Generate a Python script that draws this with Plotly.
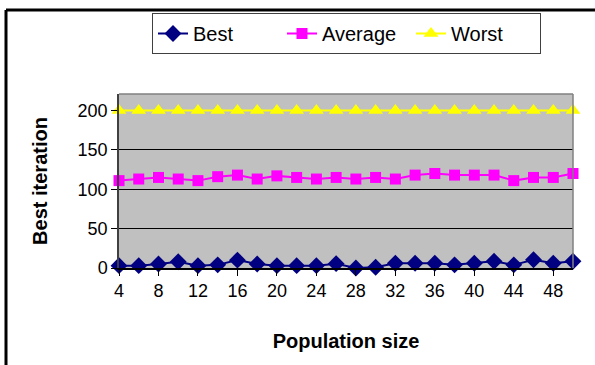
import plotly.graph_objects as go

pop_size = list(range(4, 51, 2))
best = [3, 3, 5, 8, 3, 4, 10, 5, 3, 3, 3, 5.5, 0, 1, 6, 6, 6, 4, 6, 8.5, 4, 10.5, 6, 8.5]
average = [111, 113, 115, 113, 111, 116, 118, 113, 117, 115, 113, 115, 113, 115, 113, 118, 120, 118, 118, 118, 111, 115, 115, 120]
worst = [200] * 24
x_ticks = list(range(4, 49, 4))
y_ticks = [0, 50, 100, 150, 200]

FONT = "Liberation Sans, Arial, sans-serif"

fig = go.Figure()
fig.add_trace(go.Scatter(x=pop_size, y=best, name="Best", mode="lines+markers", cliponaxis=False,
                         line=dict(color="#000080", width=2),
                         marker=dict(symbol="diamond", size=13, color="#000080")))
fig.add_trace(go.Scatter(x=pop_size, y=average, name="Average", mode="lines+markers", cliponaxis=False,
                         line=dict(color="#FF00FF", width=2),
                         marker=dict(symbol="square", size=11, color="#FF00FF")))
fig.add_trace(go.Scatter(x=pop_size, y=worst, name="Worst", mode="lines+markers", cliponaxis=False,
                         line=dict(color="#FFFF00", width=2),
                         marker=dict(symbol="triangle-up", size=13, color="#FFFF00")))

L, R, T, B = 119, 573, 94, 268
W, H = 595, 365
pw, ph = R - L, B - T

def px(x):
    return (x - L) / pw

def py(y):
    return (B - y) / ph

fig.update_layout(
    width=W, height=H,
    margin=dict(l=L, r=W - R, t=T, b=H - B, pad=0),
    paper_bgcolor="white",
    plot_bgcolor="#C0C0C0",
    font=dict(family=FONT, size=18, color="black"),
    showlegend=True,
    legend=dict(orientation="h", x=px(152), y=py(13), xanchor="left", yanchor="top",
                bordercolor="#404040", borderwidth=1, bgcolor="white",
                font=dict(size=20, family=FONT), tracegroupgap=0, entrywidth=84),
    xaxis=dict(range=[4, 50], tickvals=x_ticks, ticks="outside", ticklen=6, tickcolor="black",
               showgrid=False, zeroline=False, showline=True, linecolor="black", linewidth=1.5,
               tickfont=dict(size=18), title=dict(text="<b>Population size</b>", font=dict(size=20), standoff=34)),
    yaxis=dict(range=[0, 221], tickvals=y_ticks, ticks="outside", ticklen=6, tickcolor="black",
               showgrid=True, gridcolor="black", gridwidth=1, zeroline=False,
               showline=True, linecolor="#404040", linewidth=1.5,
               tickfont=dict(size=18), title=dict(text="<b>Best iteration</b>", font=dict(size=20), standoff=25)),
    shapes=[
        dict(type="line", xref="paper", yref="paper", x0=px(6), x1=px(596), y0=py(10), y1=py(10),
             line=dict(color="black", width=3)),
        dict(type="line", xref="paper", yref="paper", x0=px(6), x1=px(6), y0=py(10), y1=py(366),
             line=dict(color="black", width=3)),
        dict(type="line", xref="paper", yref="paper", x0=0, x1=1, y0=1, y1=1,
             line=dict(color="#808080", width=1.5)),
        dict(type="line", xref="paper", yref="paper", x0=1, x1=1, y0=0, y1=1,
             line=dict(color="#808080", width=1.5)),
    ],
)

fig.write_html("out.html", config={"displayModeBar": False},
               post_script="document.body.style.margin='0';document.body.style.overflow='hidden';")
